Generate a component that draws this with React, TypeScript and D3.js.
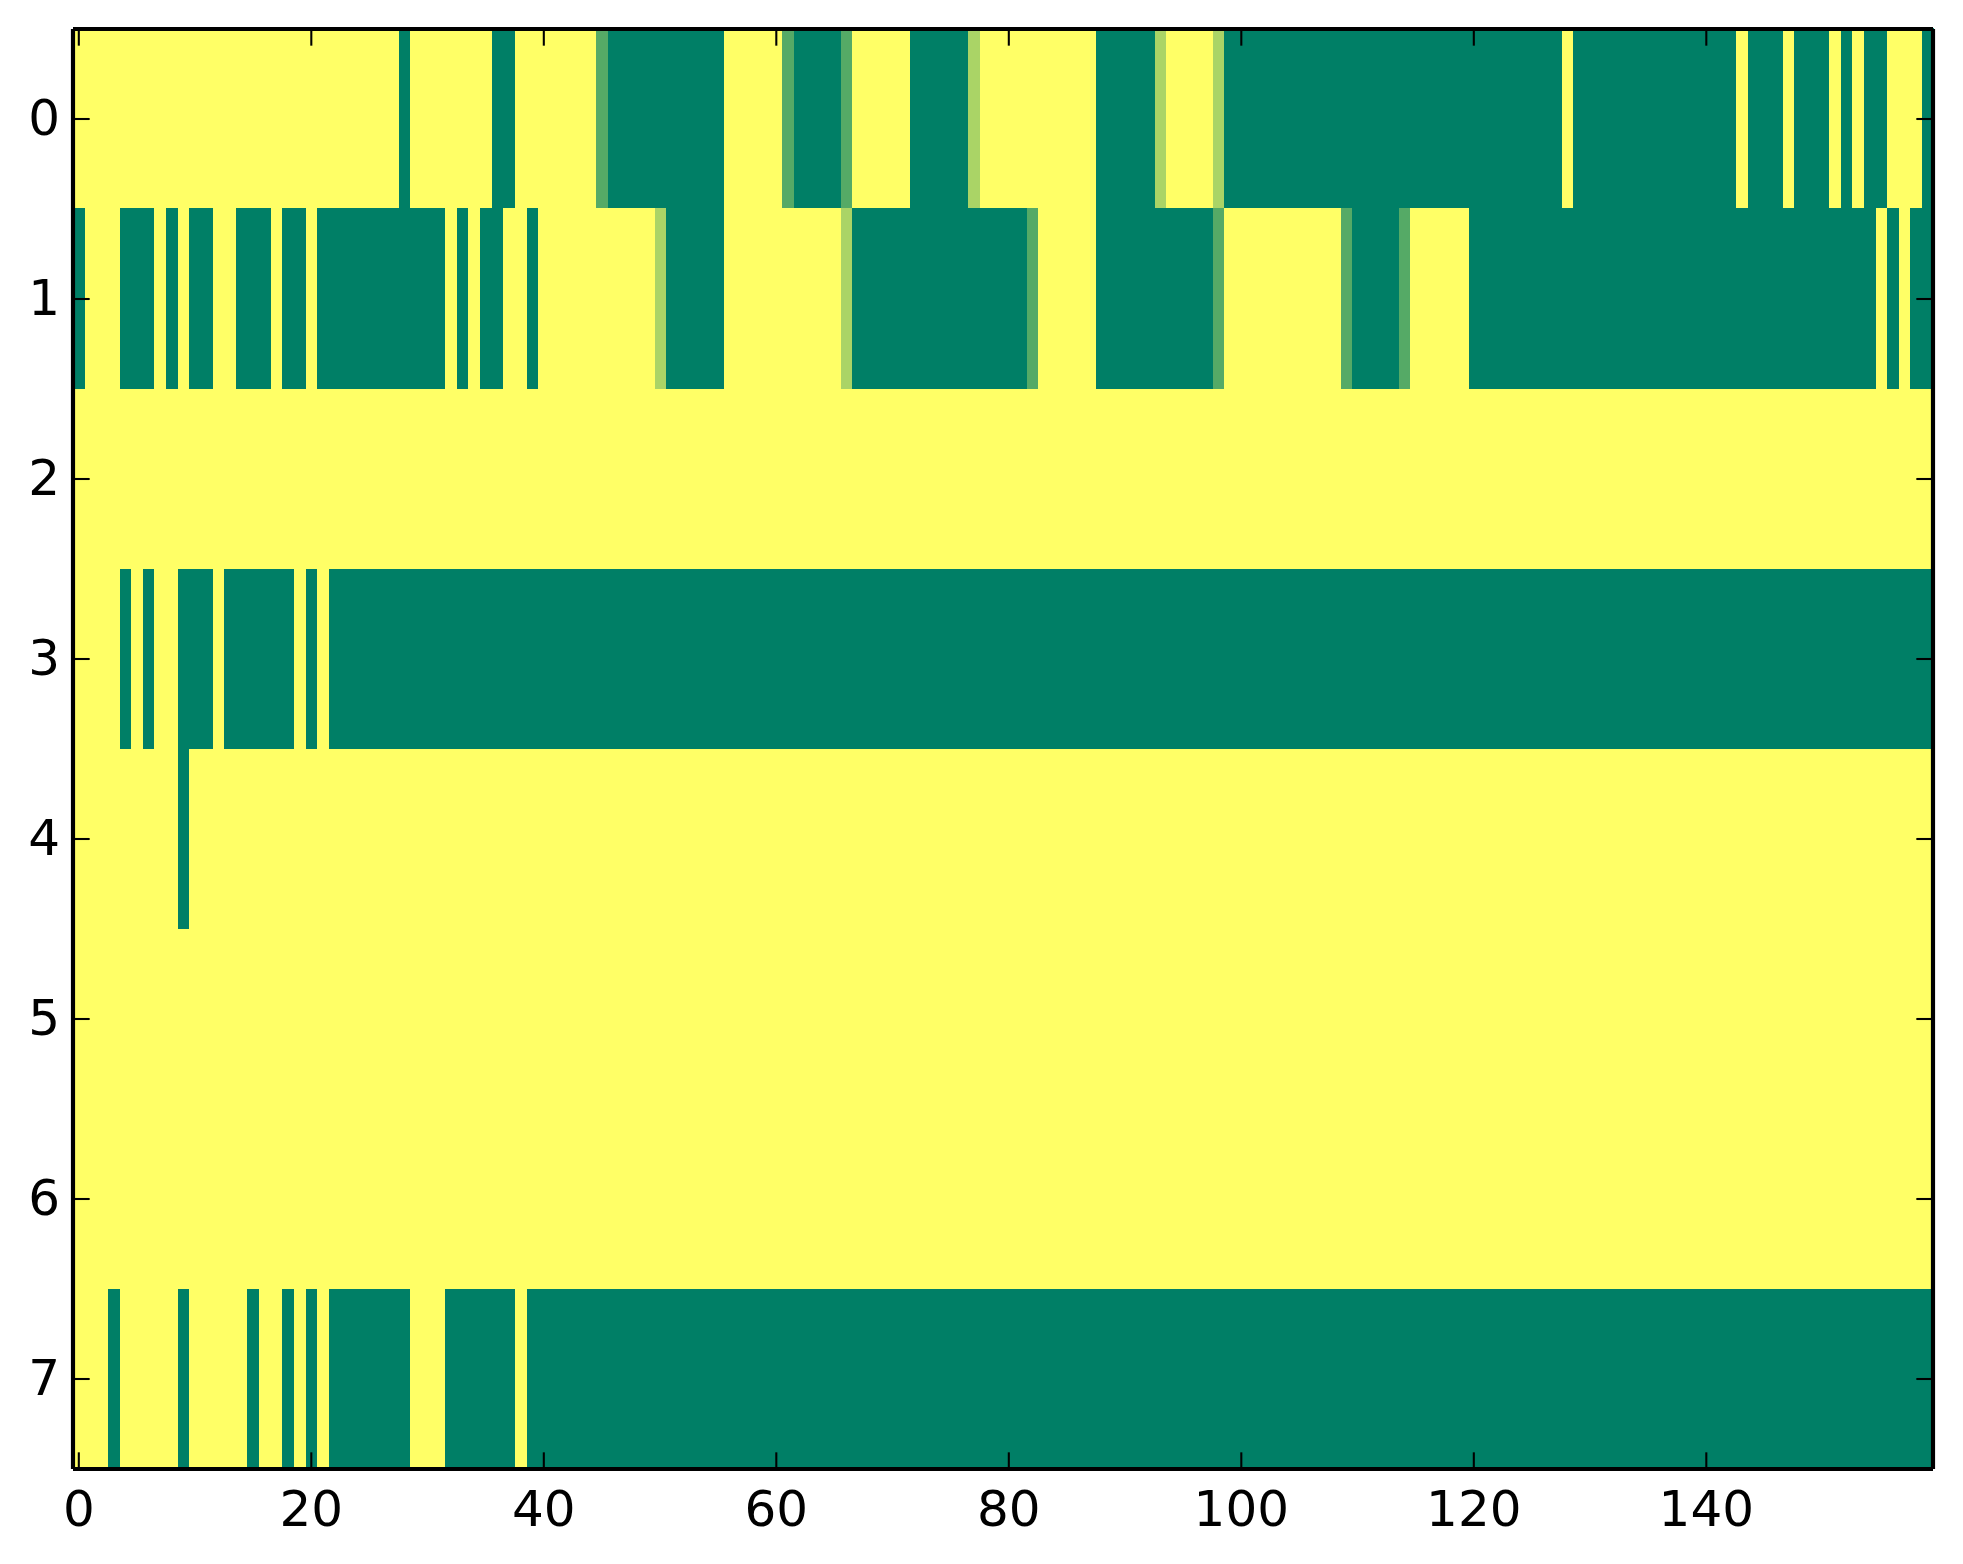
import { useEffect, useRef } from "react";
import * as d3 from "d3";

// each run is [first column, last column, level]; anything not listed is level 0
type Run = [number, number, number];

const row0: Run[] = [
  [28, 28, 3], [36, 37, 3], [45, 45, 2], [46, 55, 3], [61, 61, 2], [62, 65, 3], [66, 66, 2],
  [72, 76, 3], [77, 77, 1], [88, 92, 3], [93, 93, 1], [98, 98, 1], [99, 127, 3], [129, 142, 3],
  [144, 146, 3], [148, 150, 3], [152, 152, 3], [154, 155, 3], [159, 159, 3],
];
const row1: Run[] = [
  [0, 0, 3], [4, 6, 3], [8, 8, 3], [10, 11, 3], [14, 16, 3], [18, 19, 3], [21, 31, 3], [33, 33, 3],
  [35, 36, 3], [39, 39, 3], [50, 50, 1], [51, 55, 3], [66, 66, 1], [67, 81, 3], [82, 82, 2],
  [88, 97, 3], [98, 98, 2], [109, 109, 2], [110, 113, 3], [114, 114, 2], [120, 154, 3], [156, 156, 3],
  [158, 159, 3],
];
const row2: Run[] = [];
const row3: Run[] = [[4, 4, 3], [6, 6, 3], [9, 11, 3], [13, 18, 3], [20, 20, 3], [22, 159, 3]];
const row4: Run[] = [[9, 9, 3]];
const row5: Run[] = [];
const row6: Run[] = [];
const row7: Run[] = [
  [3, 3, 3], [9, 9, 3], [15, 15, 3], [18, 18, 3], [20, 20, 3], [22, 28, 3], [32, 37, 3], [39, 159, 3],
];
const rows = [row0, row1, row2, row3, row4, row5, row6, row7];

const xTicks = [0, 20, 40, 60, 80, 100, 120, 140];
const yTicks = [0, 1, 2, 3, 4, 5, 6, 7];

const width = 1963;
const height = 1564;
const left = 73;
const right = 1933;
const top = 29;
const bottom = 1469;
const tickLen = 16.67;
const spineWidth = 4.17;

export default function App() {
  const axesRef = useRef<SVGGElement>(null);

  const x = d3.scaleLinear().domain([-0.5, 159.5]).range([left, right]);
  const y = d3.scaleLinear().domain([-0.5, 7.5]).range([top, bottom]);
  // the image snaps to pixels a little differently from the axes
  const cellX = d3.scaleLinear().domain([-0.5, 159.5]).range([73.05, 1933.7]);
  const cellY = d3.scaleLinear().domain([-0.5, 7.5]).range([28.35, 1469.15]);
  // summer_r colormap
  const color = d3.scaleLinear<string>().domain([0, 3]).range(["#ffff66", "#007f66"]);

  useEffect(() => {
    if (!axesRef.current) return;
    const g = d3.select(axesRef.current);
    g.selectAll("*").remove();

    const bottomAxis = d3.axisBottom(x).tickValues(xTicks).tickSize(-tickLen).tickPadding(21).offset(0);
    const topAxis = d3.axisTop(x).tickValues(xTicks).tickSize(-tickLen).tickFormat(() => "").offset(0);
    const leftAxis = d3.axisLeft(y).tickValues(yTicks).tickSize(-tickLen).tickPadding(13).offset(0);
    const rightAxis = d3.axisRight(y).tickValues(yTicks).tickSize(-tickLen).tickFormat(() => "").offset(0);

    g.append("g").attr("transform", `translate(0,${bottom})`).call(bottomAxis);
    g.append("g").attr("transform", `translate(0,${top})`).call(topAxis);
    g.append("g").attr("transform", `translate(${left},0)`).call(leftAxis);
    g.append("g").attr("transform", `translate(${right},0)`).call(rightAxis);

    g.selectAll(".domain").remove();
    g.selectAll(".tick line").attr("stroke", "#000").attr("stroke-width", 2.08);
    g.selectAll(".tick text")
      .attr("fill", "#000")
      .attr("font-size", 50)
      .attr("font-family", "'DejaVu Sans'");
  }, []);

  return (
    <svg
      width={width}
      height={height}
      style={{ position: "absolute", left: 0, top: 0, display: "block", background: "#fff" }}
    >
      <rect x={left} y={top} width={right - left} height={bottom - top} fill={color(0)} />
      <g shapeRendering="crispEdges">
        {rows.map((runs, r) =>
          runs.map(([first, last, level]) => (
            <rect
              key={`${r}-${first}`}
              x={cellX(first - 0.5)}
              y={cellY(r - 0.5)}
              width={cellX(last + 0.5) - cellX(first - 0.5)}
              height={cellY(r + 0.5) - cellY(r - 0.5)}
              fill={color(level)}
            />
          ))
        )}
      </g>
      <g ref={axesRef} />
      {/* spines are separate butt-capped lines, so the corners stay notched */}
      <g stroke="#000" strokeWidth={spineWidth}>
        <line x1={left} x2={left} y1={top} y2={bottom} />
        <line x1={right} x2={right} y1={top} y2={bottom} />
        <line x1={left} x2={right} y1={top} y2={top} />
        <line x1={left} x2={right} y1={bottom} y2={bottom} />
      </g>
    </svg>
  );
}
